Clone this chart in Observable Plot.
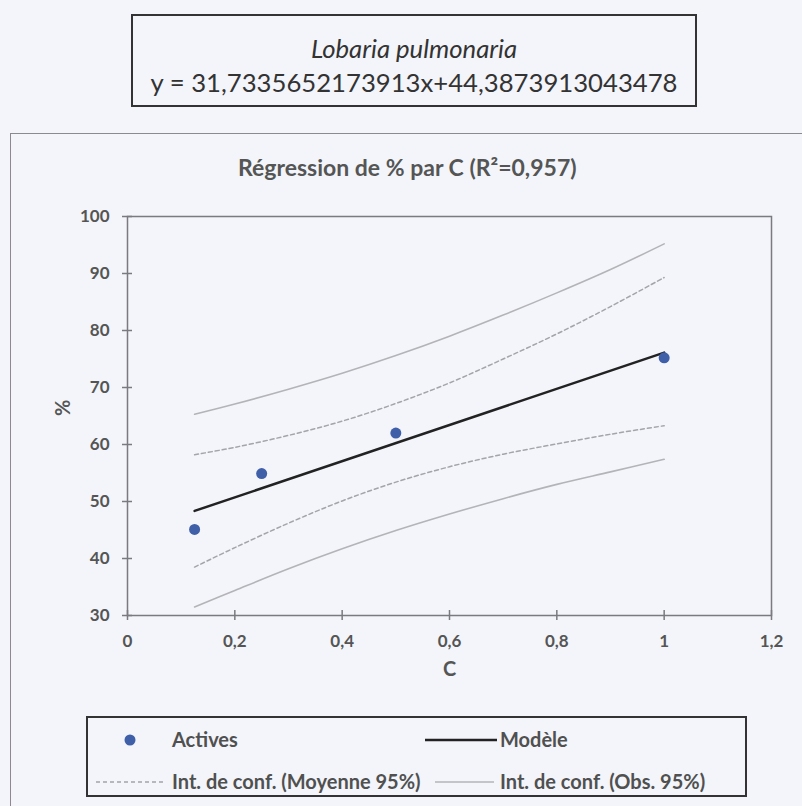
<!DOCTYPE html>
<html>
<head>
<meta charset="utf-8">
<script src="https://cdn.jsdelivr.net/npm/d3@7"></script>
<script src="https://cdn.jsdelivr.net/npm/@observablehq/plot@0.6"></script>
<style>
  html, body { margin: 0; padding: 0; background: #f3f5fa; }
  body { width: 802px; height: 806px; position: relative; overflow: hidden; font-family: Lato, "Open Sans", sans-serif; color: #333; }
  #titlebox { position: absolute; left: 131px; top: 14px; width: 562px; height: 89px; border: 2px solid #333; text-align: center; }
  #titlebox .l1 { position: absolute; left: 0; right: 0; top: 17px; font-size: 25.7px; font-style: italic; line-height: 30px; }
  #titlebox .l2 { position: absolute; left: 0; right: 0; top: 51px; font-size: 25.7px; line-height: 30px; }
  #frame { position: absolute; left: 10px; top: 133px; width: 820px; height: 700px; border: 1.5px solid #8a8a90; }
  #charttitle { position: absolute; left: 238px; top: 153px; font-size: 23px; font-weight: bold; color: #555; white-space: nowrap; }
  #chart { position: absolute; left: 0; top: 132px; }
  #legend { position: absolute; left: 86px; top: 716px; width: 657px; height: 77px; border: 2px solid #333; }
  .lg { position: absolute; font-size: 20px; font-weight: bold; color: #505050; white-space: nowrap; line-height: 22px; }
  .sw { position: absolute; }
</style>
</head>
<body>
<div id="titlebox"><div class="l1">Lobaria pulmonaria</div><div class="l2">y = 31,7335652173913x+44,3873913043478</div></div>
<div id="frame"></div>
<div id="charttitle">Régression de % par C (R²=0,957)</div>
<div id="chart"></div>
<div id="legend"></div>
<script>
// Observations (Actives)
const obsX = [0.125, 0.25, 0.5, 1];
const obsY = [45.1, 54.9, 62, 75.2];
// Model line endpoints (C, %)
const modelX = [0.125, 1];
const modelY = [48.35, 76.12];
// Confidence interval curves read at these C positions
const ciX = [0.125, 0.2, 0.3, 0.4, 0.5, 0.6, 0.7, 0.8, 0.9, 1];
const meanLower = [38.5, 41.9, 46.2, 50.1, 53.4, 56.1, 58.3, 60.1, 61.8, 63.3];
const meanUpper = [58.2, 59.5, 61.6, 64.1, 67.2, 70.8, 75.0, 79.4, 84.2, 89.3];
const obsLower = [31.5, 34.4, 38.2, 41.7, 44.9, 47.8, 50.5, 53.0, 55.2, 57.4];
const obsUpper = [65.3, 67.1, 69.7, 72.5, 75.6, 79.0, 82.7, 86.6, 90.7, 95.2];
// Axis ticks
const xTicks = [0, 0.2, 0.4, 0.6, 0.8, 1, 1.2];
const yTicks = [30, 40, 50, 60, 70, 80, 90, 100];
const legendItems = ["Actives", "Modèle", "Int. de conf. (Moyenne 95%)", "Int. de conf. (Obs. 95%)"];

const points = obsX.map((x, i) => ({x, y: obsY[i]}));
const model = modelX.map((x, i) => ({x, y: modelY[i]}));
const ci = (arr) => ciX.map((x, i) => ({x, y: arr[i]}));
const fmt = d => String(d).replace(".", ",");

const axisColor = "#7a7a80";
const chart = Plot.plot({
  width: 802,
  height: 674,
  marginLeft: 127,
  marginRight: 31,
  marginTop: 84,
  marginBottom: 191,
  style: {background: "transparent", fontFamily: "Lato, sans-serif", fontSize: "17px", fontWeight: "bold", color: "#555"},
  x: {domain: [0, 1.2], ticks: xTicks},
  y: {domain: [30, 100], ticks: yTicks},
  marks: [
    Plot.frame({stroke: axisColor, strokeWidth: 1.5}),
    Plot.ruleY(yTicks, {x1: 0, x2: 0, insetLeft: -5, insetRight: -5, stroke: axisColor, strokeWidth: 1.5}),
    Plot.ruleX(xTicks, {y1: 30, y2: 30, insetTop: -5, insetBottom: -5, stroke: axisColor, strokeWidth: 1.5}),
    Plot.axisX({ticks: xTicks, tickSize: 0, tickPadding: 19, tickFormat: fmt, label: null, fill: "#555"}),
    Plot.axisY({ticks: yTicks, tickSize: 0, tickPadding: 18, tickFormat: fmt, label: null, fill: "#555"}),
    Plot.text(["C"], {frameAnchor: "bottom", dy: 60, fontSize: 20, fill: "#555"}),
    Plot.text(["%"], {frameAnchor: "left", dx: -64, rotate: -90, fontSize: 20, fill: "#555"}),
    Plot.line(ci(obsUpper), {x: "x", y: "y", stroke: "#b4b4b8", strokeWidth: 1.6, curve: "catmull-rom"}),
    Plot.line(ci(obsLower), {x: "x", y: "y", stroke: "#b4b4b8", strokeWidth: 1.6, curve: "catmull-rom"}),
    Plot.line(ci(meanUpper), {x: "x", y: "y", stroke: "#a4a4aa", strokeWidth: 1.5, strokeDasharray: "4,3", curve: "catmull-rom"}),
    Plot.line(ci(meanLower), {x: "x", y: "y", stroke: "#a4a4aa", strokeWidth: 1.5, strokeDasharray: "4,3", curve: "catmull-rom"}),
    Plot.line(model, {x: "x", y: "y", stroke: "#222", strokeWidth: 2.5}),
    Plot.dot(points, {x: "x", y: "y", r: 5.5, fill: "#3f5fa8", stroke: "none"})
  ]
});
document.getElementById("chart").appendChild(chart);

// Legend
const lg = document.getElementById("legend");
const ox = 88, oy = 718; // legend box inner origin (page coords)
function sw(x1, x2, y, html) {
  const s = document.createElementNS("http://www.w3.org/2000/svg", "svg");
  s.setAttribute("class", "sw");
  s.setAttribute("width", x2 - x1 + 10);
  s.setAttribute("height", 14);
  s.style.left = (x1 - ox - 5) + "px";
  s.style.top = (y - oy - 7) + "px";
  s.innerHTML = html;
  lg.appendChild(s);
}
function label(x, y, t) {
  const d = document.createElement("div");
  d.className = "lg";
  d.textContent = t;
  d.style.left = (x - ox) + "px";
  d.style.top = (y - oy - 12) + "px";
  lg.appendChild(d);
}
sw(125, 135, 740, '<circle cx="10" cy="7" r="5.5" fill="#3f5fa8"/>');
label(172, 740, legendItems[0]);
sw(425, 497, 740, '<line x1="5" x2="77" y1="7" y2="7" stroke="#222" stroke-width="2.5"/>');
label(500, 740, legendItems[1]);
sw(96, 164, 782, '<line x1="5" x2="73" y1="7" y2="7" stroke="#a4a4aa" stroke-width="1.5" stroke-dasharray="4,3"/>');
label(172, 782, legendItems[2]);
sw(435, 494, 782, '<line x1="5" x2="64" y1="7" y2="7" stroke="#b4b4b8" stroke-width="1.6"/>');
label(500, 782, legendItems[3]);
</script>
</body>
</html>
